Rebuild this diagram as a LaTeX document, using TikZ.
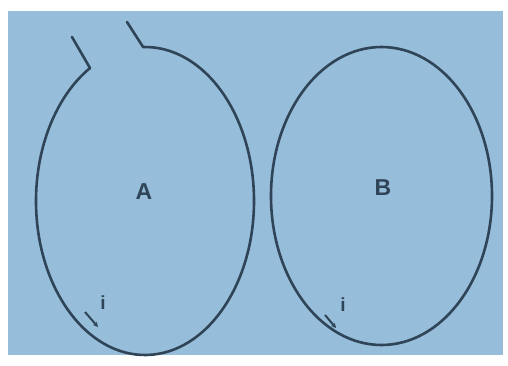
\documentclass[tikz,border=0pt]{standalone}
\usepackage{fontspec}
\setmainfont{Liberation Sans}
\usetikzlibrary{arrows.meta}
\definecolor{bgblue}{RGB}{150,189,217}
\definecolor{inkc}{RGB}{48,68,88}
\begin{document}
\begin{tikzpicture}[x=1pt,y=1pt,
  wire/.style={draw=inkc,line width=2.6pt,line cap=round,line join=round},
  current/.style={draw=inkc,line width=2pt,-{Stealth[length=5pt,width=5pt]}},
  biglabel/.style={text=inkc,font=\bfseries\fontsize{23}{23}\selectfont},
  ilabel/.style={text=inkc,font=\bfseries\fontsize{19}{19}\selectfont}]
\useasboundingbox (0,0) rectangle (508,365);
\fill[bgblue] (8,10) rectangle (503,354);
% centres
\coordinate (cA) at (145,164);
\coordinate (cB) at (381.5,169);
% loop A with gap and leads
\coordinate (a1) at ([shift={(91:109 and 154)}]cA);
\coordinate (a2) at ([shift={(120.3:109 and 154)}]cA);
\coordinate (t1) at (127,343);
\coordinate (t2) at (72,328);
\draw[wire] (t1) -- (a1) arc[start angle=91,end angle=-239.7,x radius=109,y radius=154] -- (t2);
% loop B
\draw[wire] (cB) ellipse[x radius=110.5,y radius=149];
% labels
\node[biglabel] (lA) at (144,173) {A};
\node[biglabel] (lB) at (383,177) {B};
% currents
\coordinate (ia0) at (85,53);
\coordinate (ia1) at (98,38);
\draw[current] (ia0) -- (ia1);
\node[ilabel] (iA) at (103,62) {i};
\coordinate (ib0) at (325,50);
\coordinate (ib1) at (336,37);
\draw[current] (ib0) -- (ib1);
\node[ilabel] (iB) at (343,60) {i};
\end{tikzpicture}
\end{document}
